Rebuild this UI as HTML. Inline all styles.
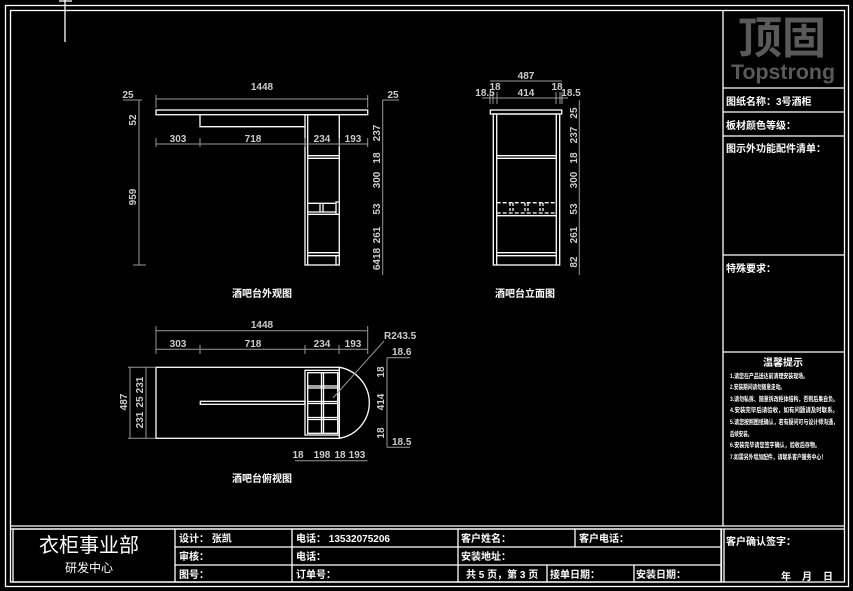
<!DOCTYPE html>
<html><head><meta charset="utf-8"><style>
html,body{margin:0;padding:0;background:#000;}
svg{display:block;}
text{font-family:"Liberation Sans","Noto Sans CJK SC",sans-serif;fill:#fff;}
.d{fill:#ccc;font-size:10px;font-weight:bold;font-family:"Liberation Sans Narrow","Liberation Sans","Noto Sans CJK SC",sans-serif;}
.w{stroke:#fff;stroke-width:1.3;fill:none;}
.g{stroke:#999;stroke-width:1;fill:none;}
.t{font-size:10px;font-weight:bold;}
.s{font-size:6.5px;font-weight:bold;}
</style></head><body>
<svg width="853" height="591" viewBox="0 0 853 591" xmlns="http://www.w3.org/2000/svg">
<rect width="853" height="591" fill="#000"/>
<rect x="5.5" y="5.5" width="843" height="581" class="w"/>
<rect x="10.5" y="10.5" width="834" height="571.5" class="w"/>
<line x1="723" y1="10" x2="723" y2="526" class="w"/>
<line x1="10" y1="526" x2="844" y2="526" class="w"/>
<line x1="10" y1="529" x2="844" y2="529" class="w"/>
<line x1="721.5" y1="529" x2="721.5" y2="582" class="w"/>
<line x1="724" y1="529" x2="724" y2="582" class="w"/>
<line x1="65" y1="0" x2="65" y2="42" class="w"/>
<line x1="59" y1="1" x2="72" y2="1" class="w"/>

<text x="782" y="53" text-anchor="middle" style="font-size:44px;font-weight:bold;fill:#5a5a5a">顶固</text>
<text x="783" y="79" text-anchor="middle" textLength="104" lengthAdjust="spacingAndGlyphs" style="font-size:21px;font-weight:bold;fill:#5a5a5a">Topstrong</text>
<line x1="723" y1="88" x2="844" y2="88" class="w"/>
<line x1="723" y1="112" x2="844" y2="112" class="w"/>
<line x1="723" y1="136" x2="844" y2="136" class="w"/>
<line x1="723" y1="255" x2="844" y2="255" class="w"/>
<line x1="723" y1="352" x2="844" y2="352" class="w"/>
<text x="726" y="105" class="t">图纸名称：3号酒柜</text>
<text x="726" y="129" class="t">板材颜色等级：</text>
<text x="726" y="152" class="t">图示外功能配件清单：</text>
<text x="726" y="272" class="t">特殊要求：</text>
<text x="783" y="366" text-anchor="middle" class="t">温馨提示</text>
<text x="730" y="378" class="s" textLength="78" lengthAdjust="spacingAndGlyphs">1.请您在产品送达前清理安装现场。</text>
<text x="730" y="389" class="s" textLength="55" lengthAdjust="spacingAndGlyphs">2.安装期间请勿随意走动。</text>
<text x="730" y="401" class="s" textLength="108" lengthAdjust="spacingAndGlyphs">3.请勿私拆、随意拆改柜体结构，否则后果自负。</text>
<text x="730" y="412" class="s" textLength="108" lengthAdjust="spacingAndGlyphs">4.安装完毕后请验收，如有问题请及时联系。</text>
<text x="730" y="424" class="s" textLength="108" lengthAdjust="spacingAndGlyphs">5.请您按照图纸确认，若有疑问可与设计师沟通，</text>
<text x="730" y="436" class="s" textLength="22" lengthAdjust="spacingAndGlyphs">后续安装。</text>
<text x="730" y="447" class="s" textLength="90" lengthAdjust="spacingAndGlyphs">6.安装完毕请您签字确认，验收后存物。</text>
<text x="730" y="459" class="s" textLength="96" lengthAdjust="spacingAndGlyphs">7.如需另外增加配件，请联系客户服务中心！</text>
<text x="726" y="545" class="t">客户确认签字：</text>
<text x="781" y="580" class="t">年</text>
<text x="802" y="580" class="t">月</text>
<text x="823" y="580" class="t">日</text>

<rect x="13" y="529" width="708" height="53" class="w"/>
<line x1="175" y1="529" x2="175" y2="582" class="w"/>
<line x1="292" y1="529" x2="292" y2="582" class="w"/>
<line x1="458" y1="529" x2="458" y2="582" class="w"/>
<line x1="575" y1="529" x2="575" y2="547" class="w"/>
<line x1="547" y1="565" x2="547" y2="582" class="w"/>
<line x1="634" y1="565" x2="634" y2="582" class="w"/>
<line x1="175" y1="547" x2="721" y2="547" class="w"/>
<line x1="175" y1="565" x2="721" y2="565" class="w"/>
<text x="89" y="552" text-anchor="middle" style="font-size:20px">衣柜事业部</text>
<text x="89" y="572" text-anchor="middle" style="font-size:12px">研发中心</text>
<text x="179" y="542" class="t">设计：  张凯</text>
<text x="296" y="542" class="t">电话：  13532075206</text>
<text x="461" y="542" class="t">客户姓名：</text>
<text x="579" y="542" class="t">客户电话：</text>
<text x="179" y="560" class="t">审核：</text>
<text x="296" y="560" class="t">电话：</text>
<text x="461" y="560" class="t">安装地址：</text>
<text x="179" y="578" class="t">图号：</text>
<text x="296" y="578" class="t">订单号：</text>
<text x="466" y="578" class="t">共 5 页，第 3 页</text>
<text x="550" y="578" class="t">接单日期：</text>
<text x="636" y="578" class="t">安装日期：</text>

<!-- FRONT VIEW -->
<rect x="156" y="110" width="211.7" height="4.7" class="w"/>
<polyline points="200,114.7 200,126.7 305,126.7" class="w"/>
<rect x="305" y="114.7" width="34.3" height="150.3" class="w"/>
<line x1="307.7" y1="114.7" x2="307.7" y2="265" class="w"/>
<line x1="307.7" y1="155.7" x2="339.3" y2="155.7" class="w"/>
<line x1="307.7" y1="158.3" x2="339.3" y2="158.3" class="w"/>
<line x1="307.7" y1="203.3" x2="336" y2="203.3" class="w"/>
<line x1="307.7" y1="214.3" x2="339.3" y2="214.3" class="w"/>
<line x1="320" y1="203.3" x2="320" y2="212" class="w"/>
<line x1="323" y1="203.3" x2="323" y2="212" class="w"/>
<line x1="307.7" y1="212" x2="336" y2="212" class="w"/>
<polyline points="336,215 336,202 339.3,202" class="w"/>
<line x1="307.7" y1="252.7" x2="339.3" y2="252.7" class="w"/>
<line x1="307.7" y1="255.7" x2="339.3" y2="255.7" class="w"/>
<line x1="336" y1="255.7" x2="336" y2="265" class="w"/>
<line x1="156" y1="99" x2="367.7" y2="99" class="g"/>
<line x1="156" y1="95" x2="156" y2="108" class="g"/><line x1="367.7" y1="95" x2="367.7" y2="108" class="g"/>
<text x="262" y="90" text-anchor="middle" class="d">1448</text>
<line x1="156" y1="144" x2="367.7" y2="144" class="g"/>
<g class="g"><line x1="156" y1="138" x2="156" y2="147"/><line x1="200" y1="138" x2="200" y2="147"/><line x1="305" y1="138" x2="305" y2="147"/><line x1="339" y1="138" x2="339" y2="147"/><line x1="367.7" y1="138" x2="367.7" y2="147"/></g>
<text x="178" y="142" text-anchor="middle" class="d">303</text>
<text x="253" y="142" text-anchor="middle" class="d">718</text>
<text x="322" y="142" text-anchor="middle" class="d">234</text>
<text x="353" y="142" text-anchor="middle" class="d">193</text>
<line x1="139" y1="100" x2="139" y2="265" class="g"/>
<line x1="123" y1="100" x2="142" y2="100" class="g"/>
<line x1="133" y1="265" x2="146" y2="265" class="g"/>
<text x="128" y="98" text-anchor="middle" class="d">25</text>
<text transform="translate(136,120) rotate(-90)" text-anchor="middle" class="d">52</text>
<text transform="translate(136,197) rotate(-90)" text-anchor="middle" class="d">959</text>
<line x1="382.7" y1="100" x2="382.7" y2="275" class="g"/>
<line x1="382.7" y1="100" x2="399" y2="100" class="g"/>
<text x="393" y="98" text-anchor="middle" class="d">25</text>
<text transform="translate(380,133) rotate(-90)" text-anchor="middle" class="d">237</text>
<text transform="translate(380,158) rotate(-90)" text-anchor="middle" class="d">18</text>
<text transform="translate(380,180) rotate(-90)" text-anchor="middle" class="d">300</text>
<text transform="translate(380,209) rotate(-90)" text-anchor="middle" class="d">53</text>
<text transform="translate(380,235) rotate(-90)" text-anchor="middle" class="d">261</text>
<text transform="translate(380,259) rotate(-90)" text-anchor="middle" class="d">6418</text>
<text x="262" y="297" text-anchor="middle" class="t">酒吧台外观图</text>

<!-- SIDE VIEW -->
<rect x="490.3" y="110" width="71.4" height="4" class="w"/>
<rect x="493.3" y="114" width="66.4" height="151" class="w"/>
<line x1="496.7" y1="114" x2="496.7" y2="265" class="w"/>
<line x1="556.3" y1="114" x2="556.3" y2="265" class="w"/>
<line x1="496.7" y1="155.7" x2="556.3" y2="155.7" class="w"/>
<line x1="496.7" y1="158.3" x2="556.3" y2="158.3" class="w"/>
<line x1="496.7" y1="202.7" x2="556.3" y2="202.7" class="w" stroke-dasharray="4,2"/>
<line x1="496.7" y1="213" x2="556.3" y2="213" class="w" stroke-dasharray="4,2"/>
<line x1="496.7" y1="215.7" x2="556.3" y2="215.7" class="w"/>
<g class="w" stroke-dasharray="3,2"><line x1="510" y1="203" x2="510" y2="213"/><line x1="513" y1="203" x2="513" y2="213"/><line x1="525" y1="203" x2="525" y2="213"/><line x1="528" y1="203" x2="528" y2="213"/><line x1="540" y1="203" x2="540" y2="213"/><line x1="543" y1="203" x2="543" y2="213"/></g>
<line x1="496.7" y1="252.7" x2="556.3" y2="252.7" class="w"/>
<line x1="496.7" y1="255.7" x2="556.3" y2="255.7" class="w"/>
<line x1="490" y1="81" x2="562" y2="81" class="g"/>
<text x="526" y="79" text-anchor="middle" class="d">487</text>
<line x1="482" y1="98" x2="568" y2="98" class="g"/>
<g class="g"><line x1="490" y1="92" x2="490" y2="104"/><line x1="493" y1="92" x2="493" y2="104"/><line x1="497" y1="92" x2="497" y2="104"/><line x1="556" y1="92" x2="556" y2="104"/><line x1="560" y1="92" x2="560" y2="104"/><line x1="562" y1="92" x2="562" y2="104"/></g>
<text x="485" y="96" text-anchor="middle" class="d">18.5</text>
<text x="495" y="90" text-anchor="middle" class="d">18</text>
<text x="526" y="96" text-anchor="middle" class="d">414</text>
<text x="557" y="90" text-anchor="middle" class="d">18</text>
<text x="571" y="96" text-anchor="middle" class="d">18.5</text>
<line x1="579.3" y1="100" x2="579.3" y2="275" class="g"/>
<text transform="translate(577,113) rotate(-90)" text-anchor="middle" class="d">25</text>
<text transform="translate(577,135) rotate(-90)" text-anchor="middle" class="d">237</text>
<text transform="translate(577,158) rotate(-90)" text-anchor="middle" class="d">18</text>
<text transform="translate(577,180) rotate(-90)" text-anchor="middle" class="d">300</text>
<text transform="translate(577,209) rotate(-90)" text-anchor="middle" class="d">53</text>
<text transform="translate(577,235) rotate(-90)" text-anchor="middle" class="d">261</text>
<text transform="translate(577,262) rotate(-90)" text-anchor="middle" class="d">82</text>
<text x="525" y="297" text-anchor="middle" class="t">酒吧台立面图</text>

<!-- PLAN VIEW -->
<rect x="156" y="367.3" width="183.3" height="71" class="w"/>
<path d="M339.3,367.3 A36,36 0 0 1 339.3,438.3" class="w"/>
<rect x="305" y="370.3" width="34.3" height="64.7" class="w"/>
<rect x="307.7" y="372.7" width="30" height="60.6" class="w"/>
<line x1="321.5" y1="372.7" x2="321.5" y2="433.3" class="w"/>
<line x1="323.5" y1="372.7" x2="323.5" y2="433.3" class="w"/>
<g class="w"><line x1="307.7" y1="386" x2="337.7" y2="386"/><line x1="307.7" y1="388" x2="337.7" y2="388"/><line x1="307.7" y1="401.5" x2="337.7" y2="401.5"/><line x1="307.7" y1="403.5" x2="337.7" y2="403.5"/><line x1="307.7" y1="417.5" x2="337.7" y2="417.5"/><line x1="307.7" y1="419.5" x2="337.7" y2="419.5"/></g>
<rect x="200.3" y="401.3" width="104.7" height="3" class="w"/>
<line x1="156" y1="330.7" x2="367.7" y2="330.7" class="g"/>
<text x="262" y="328" text-anchor="middle" class="d">1448</text>
<line x1="156" y1="349.3" x2="367.7" y2="349.3" class="g"/>
<g class="g"><line x1="156" y1="326" x2="156" y2="354"/><line x1="367.7" y1="326" x2="367.7" y2="354"/><line x1="200" y1="345" x2="200" y2="354"/><line x1="305" y1="345" x2="305" y2="354"/><line x1="339" y1="345" x2="339" y2="354"/></g>
<text x="178" y="347" text-anchor="middle" class="d">303</text>
<text x="253" y="347" text-anchor="middle" class="d">718</text>
<text x="322" y="347" text-anchor="middle" class="d">234</text>
<text x="353" y="347" text-anchor="middle" class="d">193</text>
<text x="384" y="339" class="d">R243.5</text>
<line x1="384" y1="341" x2="333" y2="398" class="g"/>
<line x1="387" y1="357.7" x2="387" y2="447.3" class="g"/>
<line x1="387" y1="357.7" x2="410" y2="357.7" class="g"/>
<line x1="387" y1="447.3" x2="410" y2="447.3" class="g"/>
<text x="392" y="355" class="d">18.6</text>
<text x="392" y="445" class="d">18.5</text>
<text transform="translate(384,372) rotate(-90)" text-anchor="middle" class="d">18</text>
<text transform="translate(384,402) rotate(-90)" text-anchor="middle" class="d">414</text>
<text transform="translate(384,433) rotate(-90)" text-anchor="middle" class="d">18</text>
<line x1="130" y1="367" x2="130" y2="438" class="g"/>
<line x1="146" y1="367" x2="146" y2="438" class="g"/>
<line x1="128" y1="367.3" x2="156" y2="367.3" class="g"/>
<line x1="128" y1="438.3" x2="156" y2="438.3" class="g"/>
<text transform="translate(127,402) rotate(-90)" text-anchor="middle" class="d">487</text>
<text transform="translate(143,385) rotate(-90)" text-anchor="middle" class="d">231</text>
<text transform="translate(143,402) rotate(-90)" text-anchor="middle" class="d">25</text>
<text transform="translate(143,420) rotate(-90)" text-anchor="middle" class="d">231</text>
<line x1="295" y1="460.7" x2="367.7" y2="460.7" class="g"/>
<text x="298" y="458" text-anchor="middle" class="d">18</text>
<text x="322" y="458" text-anchor="middle" class="d">198</text>
<text x="340" y="458" text-anchor="middle" class="d">18</text>
<text x="357" y="458" text-anchor="middle" class="d">193</text>
<text x="262" y="482" text-anchor="middle" class="t">酒吧台俯视图</text>
</svg>
</body></html>
